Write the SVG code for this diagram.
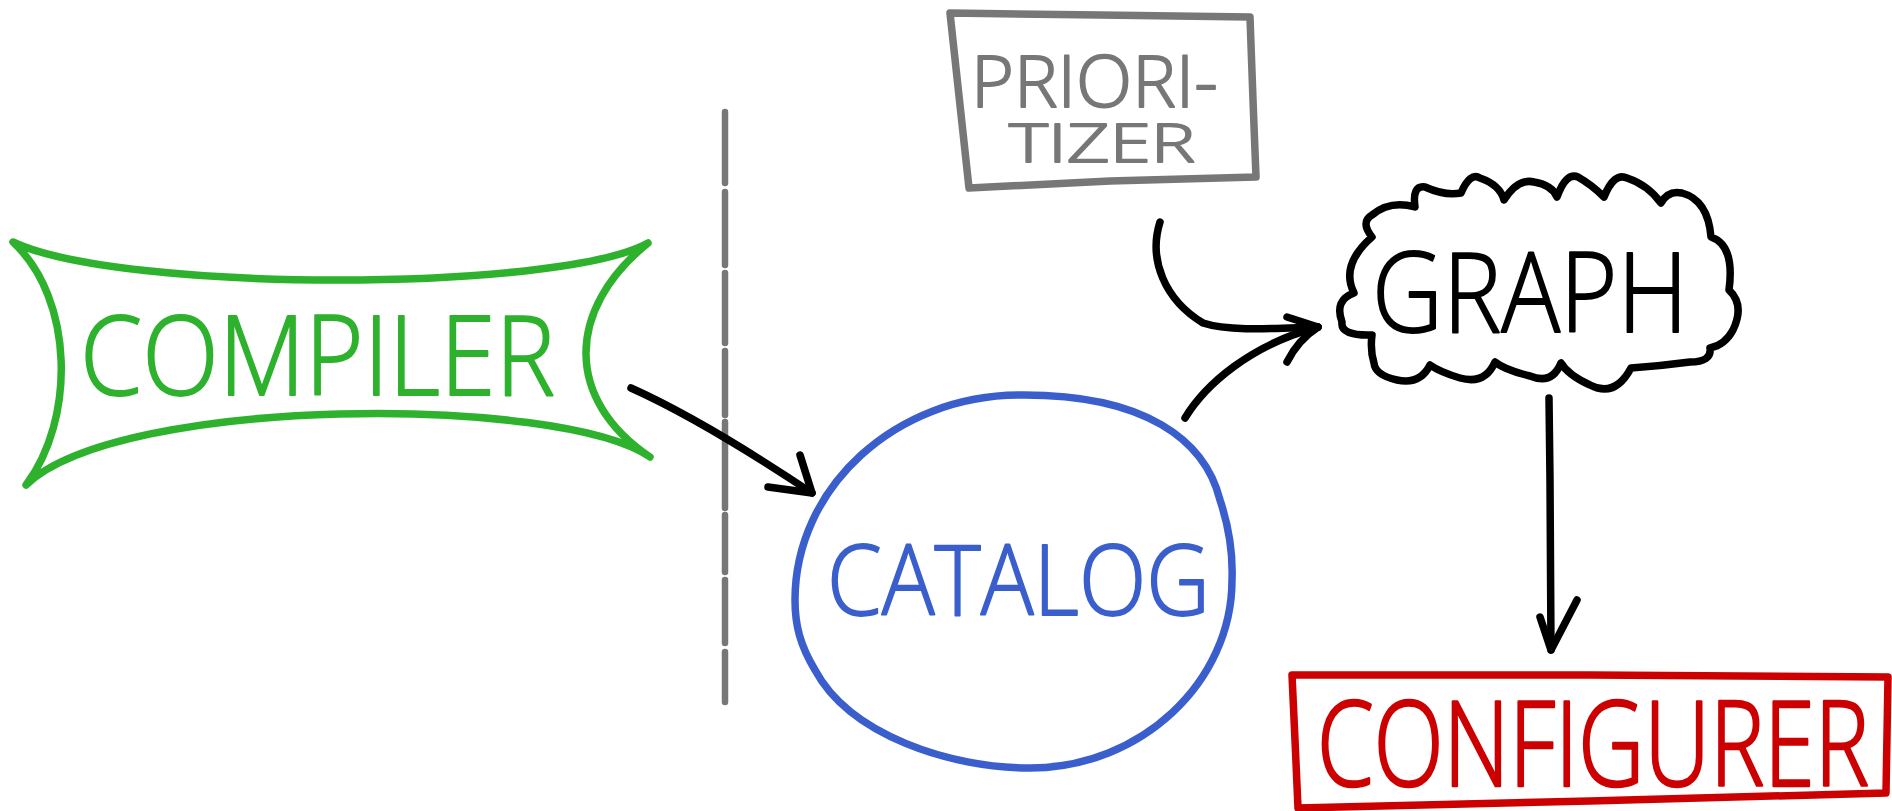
<svg xmlns="http://www.w3.org/2000/svg" width="1892" height="811" viewBox="0 0 1892 811">
<style>
.shape{fill:none;stroke-width:7.5;stroke-linecap:round;stroke-linejoin:round}
.conn{fill:none;stroke:#000;stroke-width:7.5;stroke-linecap:round;stroke-linejoin:round}
.lbl{font-family:"Open Sans","Liberation Sans",sans-serif;font-weight:300;stroke-width:1.8;stroke-linejoin:round}
</style>
<rect width="1892" height="811" fill="#fff"/>
<g id="divider">
<path d="M725,112 V183 M725,192 V265 M725,273 V343 M725,351 V415 M725,422 V508 M725,515 V572 M725,580 V643 M725,652 V702" fill="none" stroke="#777" stroke-width="6.5" stroke-linecap="round"/>
</g>
<g id="compiler">
<path class="shape" stroke="#2eb22e" d="M13,242 C120,293 560,292 648,243 C565,310 565,400 650,457 C560,395 120,395 26,485 C75,420 75,300 13,242 Z"/>
<text class="lbl" x="80" y="395" font-size="111" textLength="475" lengthAdjust="spacingAndGlyphs" fill="#2eb22e" stroke="#2eb22e">COMPILER</text>
</g>
<g id="prioritizer">
<path class="shape" stroke="#777" d="M950,13 L1100,15 L1250,17 L1253,100 L1256,177 L1110,181 L969,188 Z"/>
<text class="lbl" x="971" y="107" font-size="72" textLength="247" lengthAdjust="spacingAndGlyphs" fill="#777" stroke="#777" stroke-width="2.8">PRIORI-</text>
<text class="lbl" x="1009" y="162" font-size="54" textLength="186" lengthAdjust="spacingAndGlyphs" fill="#777" stroke="#777" stroke-width="2.8">TIZER</text>
</g>
<g id="graph">
<path class="shape" stroke="#000" d="M1342,322 Q1334,300 1354,293 Q1340,265 1372,237 Q1360,222 1372,215 Q1390,200 1415,207 Q1412,185 1425,187 Q1445,196 1461,193 Q1470,172 1480,178 Q1500,185 1504,200 Q1518,178 1534,182 Q1552,185 1557,197 Q1566,172 1578,177 Q1592,185 1604,197 Q1614,172 1627,178 Q1648,185 1661,203 Q1668,190 1682,193 Q1708,200 1711,237 Q1735,245 1729,290 Q1745,305 1733,330 Q1725,345 1710,348 Q1712,362 1690,362 Q1660,366 1631,368 Q1615,398 1590,385 Q1568,375 1561,363 Q1552,385 1530,376 Q1505,370 1495,362 Q1485,385 1460,378 Q1440,372 1430,365 Q1420,385 1397,380 Q1375,375 1374,363 Q1370,350 1372,335 Q1340,336 1342,322 Z"/>
<text class="lbl" x="1372" y="332" font-size="111" textLength="316" lengthAdjust="spacingAndGlyphs" fill="#000" stroke="#000" stroke-width="1">GRAPH</text>
</g>
<g id="catalog">
<path class="shape" stroke="#3a5fcd" d="M1020,395 C1145,394 1205,440 1220,500 C1230,530 1233,555 1232,580 C1232,682 1141,768 1030,768 C950,768 850,735 815,670 C800,645 795,625 795,600 C795,487 896,395 1020,395 Z"/>
<text class="lbl" x="827" y="615" font-size="97" textLength="383" lengthAdjust="spacingAndGlyphs" fill="#3a5fcd" stroke="#3a5fcd">CATALOG</text>
</g>
<g id="configurer">
<path class="shape" stroke="#cc0000" d="M1292,675 L1590,675 L1888,677 L1887,735 L1886,793 L1590,801 L1298,808 L1295,740 Z"/>
<text class="lbl" transform="translate(1317,786) scale(1,1.47)" x="0" y="0" font-size="80" textLength="552" lengthAdjust="spacingAndGlyphs" fill="#cc0000" stroke="#cc0000" stroke-width="1.5">CONFIGURER</text>
</g>
<g id="connectors">
<path class="conn" d="M631,388 C680,410 740,445 812,493"/>
<path class="conn" d="M800,455 L812,493 L768,487"/>
<path class="conn" d="M1160,222 C1148,260 1165,300 1203,323 C1230,332 1280,328 1318,327"/>
<path class="conn" d="M1185,418 C1205,385 1250,345 1318,327"/>
<path class="conn" d="M1287,317 L1318,327 Q1298,340 1287,362"/>
<path class="conn" d="M1549,398 L1550,480 L1551,650"/>
<path class="conn" d="M1540,617 L1551,650 L1577,600"/>
</g>
</svg>
